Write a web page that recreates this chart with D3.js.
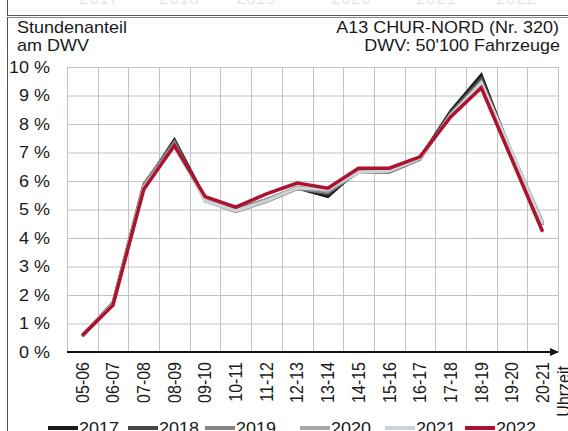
<!DOCTYPE html>
<html>
<head>
<meta charset="utf-8">
<script src="https://cdn.jsdelivr.net/npm/d3@7"></script>
<style>
  body { margin: 0; background: #fff; }
  svg { display: block; font-family: "Liberation Sans", Arial, sans-serif; }
  .grid line { stroke: #c2c2c2; stroke-width: 1; }
  .grid path { display: none; }
  .lbl { font-size: 16px; fill: #1a1a1a; }
</style>
</head>
<body>
<svg id="chart" width="568" height="431"></svg>
<script>
// Stundenanteil am DWV pro Stunde, A13 Chur-Nord
var hours = ["05-06", "06-07", "07-08", "08-09", "09-10", "10-11", "11-12", "12-13",
             "13-14", "14-15", "15-16", "16-17", "17-18", "18-19", "19-20", "20-21"];
var years = ["2017", "2018", "2019", "2020", "2021", "2022"];
var yTicks = [0, 1, 2, 3, 4, 5, 6, 7, 8, 9, 10];

var v2017 = [0.55, 1.70, 5.80, 7.45, 5.40, 5.00, 5.35, 5.75, 5.45, 6.40, 6.35, 6.80, 8.45, 9.72, 6.90, 4.45];
var v2018 = [0.56, 1.72, 5.85, 7.40, 5.35, 4.95, 5.30, 5.75, 5.55, 6.35, 6.35, 6.80, 8.40, 9.60, 6.95, 4.50];
var v2019 = [0.57, 1.75, 5.90, 7.35, 5.30, 4.92, 5.28, 5.72, 5.60, 6.30, 6.30, 6.75, 8.35, 9.50, 7.00, 4.55];
var v2020 = [0.60, 1.70, 5.80, 7.20, 5.35, 4.98, 5.35, 5.80, 5.65, 6.35, 6.35, 6.80, 8.30, 9.40, 6.90, 4.45];
var v2021 = [0.58, 1.68, 5.75, 7.25, 5.30, 4.95, 5.30, 5.75, 5.70, 6.30, 6.35, 6.80, 8.30, 9.45, 7.00, 4.50];
var v2022 = [0.58, 1.65, 5.70, 7.25, 5.45, 5.08, 5.55, 5.93, 5.75, 6.45, 6.45, 6.85, 8.25, 9.27, 6.75, 4.22];

var series = [v2017, v2018, v2019, v2020, v2021, v2022];
var colors = ["#1c1c1c", "#474747", "#858585", "#a8a8a8", "#cdd3d8", "#ad1230"];

var svg = d3.select("#chart");
var sx = 1.125; // the original picture is a bit stretched sideways

var x = d3.scaleBand().domain(hours).range([67, 558]);
var y = d3.scaleLinear().domain([0, 10]).range([352, 67]);

// horizontal text, stretched like the source
function hText(g, px, py, s, anchor) {
  return g.append("text")
    .attr("class", "lbl")
    .attr("transform", "translate(" + px + "," + py + ") scale(" + sx + ",1)")
    .attr("text-anchor", anchor || "start")
    .text(s);
}

// frame bits (bottom of previous chart + this frame)
svg.append("line").attr("x1", 7).attr("x2", 568).attr("y1", 15.5).attr("y2", 15.5).attr("stroke", "#555");
svg.append("line").attr("x1", 7).attr("x2", 568).attr("y1", 17.5).attr("y2", 17.5).attr("stroke", "#888");
svg.append("line").attr("x1", 7.5).attr("x2", 7.5).attr("y1", 0).attr("y2", 15).attr("stroke", "#555");
svg.append("line").attr("x1", 7.5).attr("x2", 7.5).attr("y1", 17).attr("y2", 431).attr("stroke", "#555");

// legend positions
var legX = [48, 128, 205, 300, 385, 465];

// faint remains of the previous chart's legend at the very top
var ghost = svg.append("g").attr("fill-opacity", 0.12);
years.forEach(function(d, i) { hText(ghost, legX[i] + 31, 4, d); });

// titles
hText(svg, 17, 33, "Stundenanteil");
hText(svg, 17, 51, "am DWV");
hText(svg, 559, 33, "A13 CHUR-NORD (Nr. 320)", "end");
hText(svg, 560, 51, "DWV: 50'100 Fahrzeuge", "end");

// horizontal grid
svg.append("g")
  .attr("class", "grid")
  .attr("transform", "translate(67,0)")
  .call(d3.axisLeft(y).tickValues(yTicks).tickSize(-491).tickFormat(""));

// vertical grid at band edges
var edges = hours.map(function(h) { return x(h); }).concat([x.range()[1]]);
svg.append("g").attr("class", "grid")
  .selectAll("line")
  .data(edges)
  .enter().append("line")
    .attr("x1", function(d) { return Math.round(d) + 0.5; })
    .attr("x2", function(d) { return Math.round(d) + 0.5; })
    .attr("y1", y(10))
    .attr("y2", y(0));

// y labels
var yl = svg.append("g");
yTicks.forEach(function(t) {
  hText(yl, 50, y(t) + 5.5, t + " %", "end");
});

// lines
var line = d3.line()
  .x(function(d, i) { return x(hours[i]) + x.bandwidth() / 2; })
  .y(function(d) { return y(d); });

svg.append("g").selectAll("path")
  .data(series)
  .enter().append("path")
    .attr("d", line)
    .attr("fill", "none")
    .attr("stroke", function(d, i) { return colors[i]; })
    .attr("stroke-width", function(d, i) { return i === 5 ? 3.5 : 3; })
    .attr("stroke-linejoin", "miter");

// x axis with arrow
svg.append("line")
  .attr("x1", 67).attr("x2", 552)
  .attr("y1", y(0)).attr("y2", y(0))
  .attr("stroke", "#111").attr("stroke-width", 2);
svg.append("path")
  .attr("d", "M550," + (y(0) - 4) + "L559," + y(0) + "L550," + (y(0) + 4) + "Z")
  .attr("fill", "#111");

// x labels (rotated)
svg.append("g").selectAll("text")
  .data(hours)
  .enter().append("text")
    .attr("class", "lbl")
    .attr("transform", function(d) { return "translate(" + (x(d) + x.bandwidth() / 2) + ",362) rotate(-90) scale(1," + sx + ")"; })
    .attr("dy", "0.35em")
    .attr("text-anchor", "end")
    .text(function(d) { return d; });

svg.append("text")
  .attr("class", "lbl")
  .attr("transform", "translate(564,366) rotate(-90) scale(1," + sx + ")")
  .attr("dy", "0.35em")
  .attr("text-anchor", "end")
  .text("Uhrzeit");

// legend
var leg = svg.append("g");
years.forEach(function(d, i) {
  leg.append("line")
    .attr("x1", legX[i])
    .attr("x2", legX[i] + 30)
    .attr("y1", 428).attr("y2", 428)
    .attr("stroke", colors[i])
    .attr("stroke-width", 4);
  hText(leg, legX[i] + 31, 434, d);
});
</script>
</body>
</html>
